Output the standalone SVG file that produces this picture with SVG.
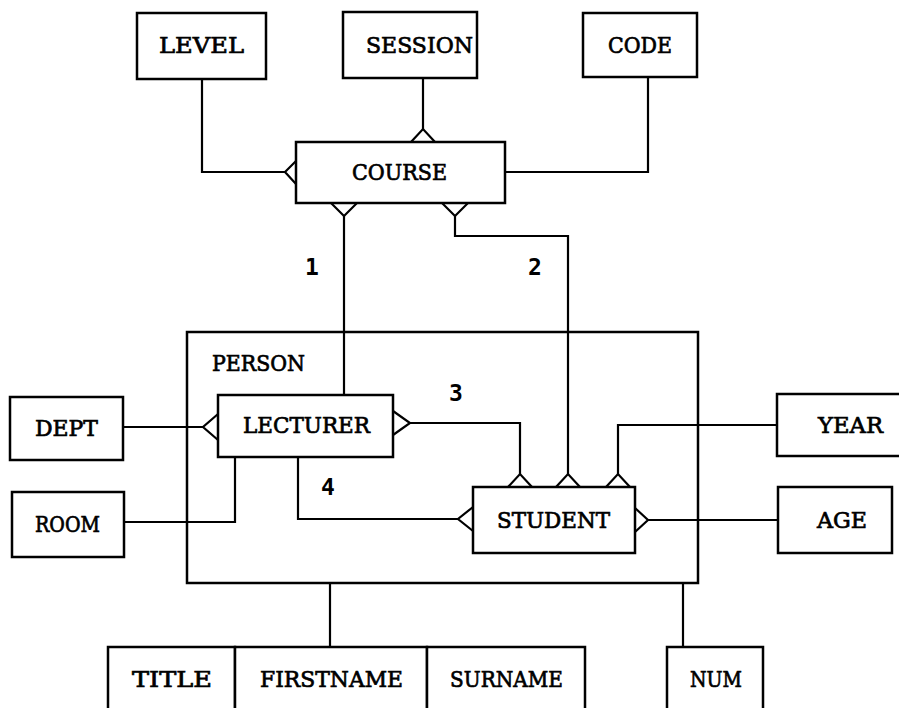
<svg xmlns="http://www.w3.org/2000/svg" width="899" height="708" viewBox="0 0 899 708">
<style>
.box{fill:#fff;stroke:#000;stroke-width:2.5}
.lbl{font-family:"DejaVu Serif","Liberation Serif",serif;font-size:22px;fill:#000;stroke:#000;stroke-width:0.7}
.num{font-family:"DejaVu Sans Mono","Liberation Mono",monospace;font-size:23px;font-weight:bold;fill:#000;text-anchor:middle}
#connectors path{fill:none;stroke:#000;stroke-width:2.2;stroke-linejoin:miter}
</style>
<rect width="899" height="708" fill="#fff"/>
<g id="person">
<rect class="box" x="187" y="332" width="511" height="251" fill="none"/>
<text class="lbl" x="212" y="371" textLength="93" lengthAdjust="spacingAndGlyphs">PERSON</text>
</g>
<g id="connectors">
<path d="M202 79V172H285"/>
<path d="M423 78V129"/>
<path d="M505 172H648V77"/>
<path d="M344 216V395"/>
<path d="M455 216V236H568V474"/>
<path d="M123 427H203"/>
<path d="M124 522H235V457"/>
<path d="M410 423H520V474"/>
<path d="M618 474V425H777"/>
<path d="M648 520H778"/>
<path d="M298 457V519H458"/>
<path d="M330 583V647"/>
<path d="M683 583V647"/>
<path d="M296 161L285 172L296 184"/>
<path d="M411 142L423 129L435 142"/>
<path d="M331 203L344 216L357 203"/>
<path d="M442 203L455 216L468 203"/>
<path d="M218 414L203 427L218 440"/>
<path d="M393 411L410 423L393 435"/>
<path d="M508 487L520 474L532 487"/>
<path d="M556 487L568 474L580 487"/>
<path d="M606 487L618 474L630 487"/>
<path d="M473 507L458 519L473 531"/>
<path d="M635 508L648 520L635 532"/>
</g>
<g id="level"><rect class="box" x="137" y="13" width="129" height="66"/><text class="lbl" x="159" y="53" textLength="85" lengthAdjust="spacingAndGlyphs">LEVEL</text></g>
<g id="session"><rect class="box" x="343" y="12" width="134" height="66"/><text class="lbl" x="366" y="53" textLength="107" lengthAdjust="spacingAndGlyphs">SESSION</text></g>
<g id="code"><rect class="box" x="583" y="13" width="114" height="64"/><text class="lbl" x="608" y="53" textLength="64" lengthAdjust="spacingAndGlyphs">CODE</text></g>
<g id="course"><rect class="box" x="296" y="142" width="209" height="61"/><text class="lbl" x="352" y="180" textLength="95" lengthAdjust="spacingAndGlyphs">COURSE</text></g>
<g id="lecturer"><rect class="box" x="218" y="395" width="175" height="62"/><text class="lbl" x="243" y="433" textLength="127" lengthAdjust="spacingAndGlyphs">LECTURER</text></g>
<g id="student"><rect class="box" x="473" y="487" width="162" height="66"/><text class="lbl" x="497" y="528" textLength="113" lengthAdjust="spacingAndGlyphs">STUDENT</text></g>
<g id="dept"><rect class="box" x="10" y="397" width="113" height="63"/><text class="lbl" x="35" y="436" textLength="63" lengthAdjust="spacingAndGlyphs">DEPT</text></g>
<g id="room"><rect class="box" x="12" y="492" width="112" height="65"/><text class="lbl" x="35" y="532" textLength="65" lengthAdjust="spacingAndGlyphs">ROOM</text></g>
<g id="year"><rect class="box" x="777" y="394" width="124" height="62"/><text class="lbl" x="818" y="433" textLength="65" lengthAdjust="spacingAndGlyphs">YEAR</text></g>
<g id="age"><rect class="box" x="778" y="487" width="114" height="66"/><text class="lbl" x="817" y="528" textLength="50" lengthAdjust="spacingAndGlyphs">AGE</text></g>
<g id="title"><rect class="box" x="108" y="647" width="127" height="70"/><text class="lbl" x="132" y="687" textLength="80" lengthAdjust="spacingAndGlyphs">TITLE</text></g>
<g id="firstname"><rect class="box" x="235" y="647" width="192" height="70"/><text class="lbl" x="260" y="687" textLength="143" lengthAdjust="spacingAndGlyphs">FIRSTNAME</text></g>
<g id="surname"><rect class="box" x="427" y="647" width="158" height="70"/><text class="lbl" x="450" y="687" textLength="113" lengthAdjust="spacingAndGlyphs">SURNAME</text></g>
<g id="num"><rect class="box" x="667" y="647" width="96" height="70"/><text class="lbl" x="690" y="687" textLength="52" lengthAdjust="spacingAndGlyphs">NUM</text></g>
<g id="labels">
<text class="num" x="312" y="275">1</text>
<text class="num" x="535" y="275">2</text>
<text class="num" x="456" y="401">3</text>
<text class="num" x="328" y="495">4</text>
</g>
</svg>
